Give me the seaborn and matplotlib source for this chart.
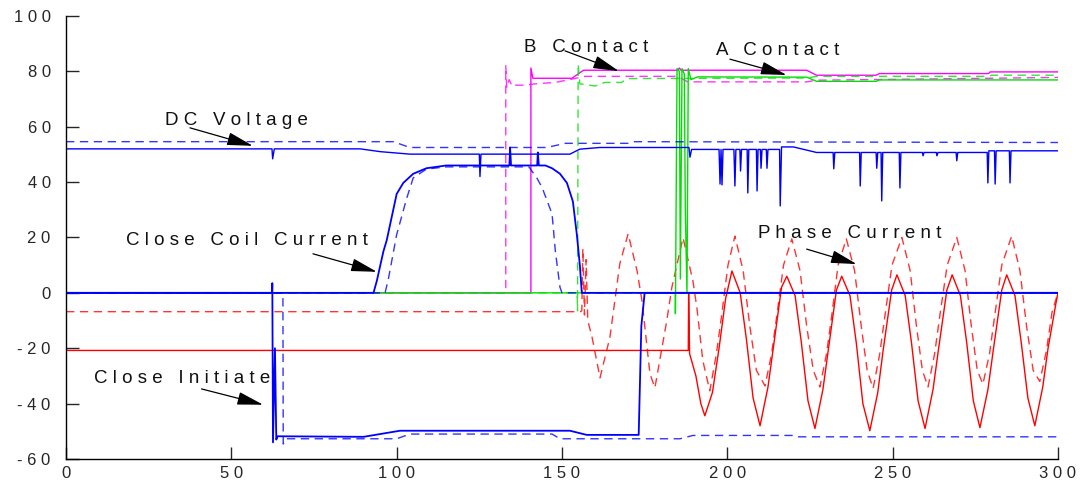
import matplotlib
matplotlib.use("Agg")
import matplotlib.pyplot as plt
import seaborn as sns
import pandas as pd

# ---- traces (time ms, value) ----
dc_solid = [(0, 52), (62.3, 52), (62.5, 48.4), (63.0, 52), (89, 52), (95, 51), (104, 50.1),
            (125.0, 50.1), (125.2, 42), (125.5, 50.1), (152.4, 50.1), (155.4, 51.9), (161.5, 52.5),
            (188.4, 52.5), (188.7, 49), (189.2, 51.8),
            (197.5, 51.8), (197.8, 39.3), (198.1, 51.8), (198.4, 39), (198.7, 51.8),
            (202.0, 51.8), (202.3, 38.6), (202.6, 51.8), (203.8, 51.8), (204.0, 44), (204.3, 51.8),
            (206.0, 51.8), (206.2, 36.1), (206.5, 51.8), (208.8, 51.8), (209.0, 36.8), (209.3, 51.8),
            (210.0, 51.8), (210.2, 45), (210.5, 51.8), (211.8, 51.8), (212.0, 45), (212.3, 51.8),
            (215.8, 51.8), (216.0, 31.4), (216.4, 52.7), (220, 52.7), (227, 50.7),
            (232.0, 50.7), (232.2, 44.8), (232.5, 50.7), (240.0, 50.7), (240.2, 38.6), (240.5, 50.7),
            (245.0, 50.7), (245.2, 45), (245.5, 50.7), (246.5, 50.7), (246.7, 33.2), (247.0, 50.7),
            (252.0, 50.7), (252.2, 37.9), (252.5, 50.7), (259.0, 50.7), (259.2, 49.5), (259.5, 50.7),
            (263.2, 50.7), (263.4, 49.5), (263.7, 50.7), (269.2, 50.7), (269.4, 47.7), (269.7, 50.7),
            (278.6, 50.7), (278.8, 39.7), (279.1, 51.3), (280.8, 51.3), (281.0, 39.3), (281.3, 51.3),
            (285.3, 51.3), (285.5, 39.7), (285.8, 51.3), (300, 51.3)]
dc_dashed = [(0, 54.6), (99, 54.6), (104, 52.5), (145.4, 52.5), (151, 54), (170, 54),
             (172, 54.6), (300, 54.3)]

coil_solid = [(0, 0), (93, 0), (94, 4.3), (96, 15), (97, 19), (100, 35.7), (102, 39.7),
              (105, 43), (109, 45), (115, 46), (134.1, 46), (134.3, 52.5), (134.6, 46),
              (142.5, 46), (142.7, 50.7), (143.0, 46), (145, 46), (147, 45), (149.4, 43),
              (151.5, 39.7), (153.3, 33), (154.5, 21), (155.4, 10), (156, 0), (300, 0)]
coil_dashed = [(0, 0), (96.5, 0), (97.5, 5), (100, 21), (103, 34), (105, 41.5), (109, 44.7),
               (115, 45.5), (140, 45.5), (142.4, 41.5), (144, 38), (147, 28.5), (148, 15),
               (149.4, 2), (150, 0), (300, 0)]

init_solid = [(0, 0), (62.3, 0), (62.4, 3.5), (62.6, -54), (63.2, -20), (63.6, -53),
              (64, -51.8), (90, -52), (101, -49.8), (152.4, -49.8), (157.5, -51.3),
              (173.2, -51.3), (174, -12), (175, 0), (300, 0)]
init_dashed = [(0, 0), (65.6, 0), (65.7, -54.6), (66.5, -52.7), (100, -52.7), (104, -51),
               (147, -51), (149.4, -52.7), (185.7, -52.7), (189.6, -51.5), (220, -51.5),
               (221, -52), (300, -52)]

phase_solid = [(0, -20.8), (188.2, -20.8), (188.3, 0), (188.6, -22), (190.5, -30), (192, -40),
               (193.2, -44.4), (195.5, -36), (197.5, -20), (199.5, -2), (201.4, 7.9),
               (203.9, 0), (205.8, -17), (207.8, -38), (209.9, -48),
               (212.3, -34), (213.9, -20), (216.4, 2), (218, 6),
               (220.5, -1), (222.4, -18), (224.4, -39), (226.5, -49),
               (228.9, -35), (230.5, -21), (233, 1), (234.6, 6),
               (237.1, -1), (239, -18), (241, -40), (243.1, -49.8),
               (245.5, -36), (247.1, -21), (249.7, 1), (251.3, 6.5),
               (253.8, -1), (255.7, -18), (257.7, -39), (259.8, -49),
               (262.2, -35), (263.8, -21), (266.4, 1), (268, 6.5),
               (270.5, -1), (272.4, -18), (274.4, -39), (276.4, -48.7),
               (278.8, -35), (280.4, -21), (283, 1), (284.5, 6.5),
               (287, -1), (288.9, -18), (290.9, -38), (293, -48),
               (295.4, -34), (297, -20), (299.5, -3), (300, 0)]
phase_dashed = [(0, -6.8), (155.5, -6.8), (156, -6.5), (156.3, 16), (156.8, -8), (157.3, 12),
                (157.8, -10), (159.1, -16), (161.5, -30.7), (164.5, -16), (167.5, 10.6),
                (170, 21.3), (172.7, 8), (174.2, -2.9), (176.6, -29.2), (178.1, -34.3),
                (181.7, -10), (183.2, 1.8), (186.6, 19.9), (189.6, 4.3), (190.8, -5.4),
                (192.6, -24.5), (194.7, -35.4),
                (196.7, -22), (198.3, -8), (200.2, 10), (202.3, 20.5),
                (204.8, 8), (206.8, -12), (208.8, -28), (211.4, -33.6),
                (213.4, -22), (215, -8), (217, 10), (219.5, 19.5),
                (222, 8), (224, -12), (226, -28), (228, -34),
                (230, -22), (231.6, -8), (233.5, 10), (236, 19.5),
                (238.5, 8), (240.5, -12), (242.3, -28), (244.1, -34.5),
                (246.1, -22), (247.7, -8), (249.8, 10), (252.8, 20),
                (255.3, 8), (257.2, -12), (259, -28), (260.7, -34),
                (262.7, -22), (264.3, -8), (266.5, 10), (269.4, 20),
                (271.9, 8), (273.8, -12), (275.6, -28), (277.3, -33),
                (279.3, -22), (280.9, -8), (283, 10), (286, 20.5),
                (288.5, 8), (290.5, -12), (292.5, -28), (294.5, -32),
                (296.5, -21), (298.2, -7), (300, 0)]

b_solid = [(0, 0), (140.6, 0), (140.6, 81.2), (141.2, 77.5), (153, 77.5), (156.5, 80.4),
           (185, 80.4), (185.5, 81.2), (186, 80.4), (224, 80.4), (227, 78.6), (245, 78.6),
           (246, 79.2), (279, 79.2), (279.5, 79.8), (300, 79.8)]
b_dashed = [(0, 0), (133, 0), (133, 82), (133.3, 74), (134, 77), (135, 74.5), (136, 75),
            (138, 75), (143, 75.6), (148, 76), (153, 77.2), (157, 78.2), (185, 78.2),
            (188, 76.2), (224, 76.2), (227, 76.8), (279, 77.5), (300, 77.8)]

a_solid = [(0, 0), (184.3, 0), (184.3, -7.5), (184.8, 81), (185.5, 80), (185.8, 5), (186.3, 81),
           (187, 79), (187.3, 30), (187.8, 0), (188.2, 81), (189, 77), (191, 78),
           (224, 77.9), (227, 76.4), (245, 76.4), (246, 76.9), (300, 76.9)]
a_dashed = [(0, 0), (154.6, 0), (154.7, -6.5), (154.9, 82.7), (155.4, 75.5), (160, 74.7),
            (163, 76), (168, 76), (170, 77.4), (224, 77.6), (227, 78.2), (279, 78.2),
            (280, 78.6), (300, 78.6)]

# annotations: text, text position, arrow tail, arrow head
labels = ["D C   V o l t a g e", "C l o s e   C o i l   C u r r e n t",
          "C l o s e   I n i t i a t e", "B   C o n t a c t", "A   C o n t a c t",
          "P h a s e   C u r r e n t"]
label_xy = [(29.9, 60.6), (18.1, 17.3), (8.5, -32.5), (138.5, 87.0), (196.6, 85.9), (209.3, 19.9)]
arrow_tail = [(37.5, 59.6), (74.7, 14.1), (41, -34.7), (150.9, 87.4), (200.8, 84.4), (224, 15.8)]
arrow_head = [(56.5, 53.1), (94, 7.6), (59.6, -40.4), (167.2, 80.1), (217.9, 78.7), (239.1, 10.4)]

yticks = [100, 80, 60, 40, 20, 0, -20, -40, -60]
xticks = [0, 50, 100, 150, 200, 250, 300]

BLUE, RED, MAG, GREEN = "#0000ff", "#ff0000", "#ff00ff", "#00e000"
DASH = (0, (6, 4))

sns.set_style("ticks")
plt.rcParams["font.family"] = ["Liberation Sans", "DejaVu Sans"]

fig = plt.figure(figsize=(10.8, 4.84), dpi=100)
ax = fig.add_axes([0.0611, 0.0517, 0.9185, 0.9153])


def trace(pts, color, dashed=False, lw=1.0):
    df = pd.DataFrame(pts, columns=["t", "v"])
    kw = dict(linestyle=DASH, alpha=0.8) if dashed else dict(linestyle="-")
    sns.lineplot(data=df, x="t", y="v", ax=ax, color=color, lw=lw,
                 sort=False, estimator=None, **kw)


trace(phase_dashed, RED, dashed=True)
trace(phase_solid, RED)
trace(b_dashed, MAG, dashed=True)
trace(b_solid, MAG)
trace(a_dashed, GREEN, dashed=True)
trace(a_solid, GREEN)
trace(dc_dashed, BLUE, dashed=True)
trace(dc_solid, BLUE)
trace(init_dashed, BLUE, dashed=True)
trace(coil_dashed, BLUE, dashed=True)
trace(init_solid, BLUE, lw=1.3)
trace(coil_solid, BLUE, lw=1.3)

for txt, xy, tail, head in zip(labels, label_xy, arrow_tail, arrow_head):
    ax.text(xy[0], xy[1], txt, fontsize=13.5, ha="left", va="baseline", color="#111111")
    ax.annotate("", xy=head, xytext=tail,
                arrowprops=dict(arrowstyle="-|>,head_length=0.8,head_width=0.2",
                                color="black", lw=0.9, mutation_scale=20,
                                shrinkA=0, shrinkB=0))

ax.set_xlim(0, 300)
ax.set_ylim(-60, 100)
ax.set_yticks(yticks, [" ".join(str(v)) for v in yticks])
ax.set_xticks(xticks, [" ".join(str(v)) for v in xticks])
ax.tick_params(axis="y", direction="in", length=9, width=1, pad=11, labelsize=12)
ax.tick_params(axis="x", direction="in", length=9, width=1, pad=5, labelsize=12)
ax.set_xlabel("")
ax.set_ylabel("")
sns.despine(ax=ax)
for s in ["left", "bottom"]:
    ax.spines[s].set_linewidth(1)
    ax.spines[s].set_color("black")

fig.savefig("out.png", dpi=100)
